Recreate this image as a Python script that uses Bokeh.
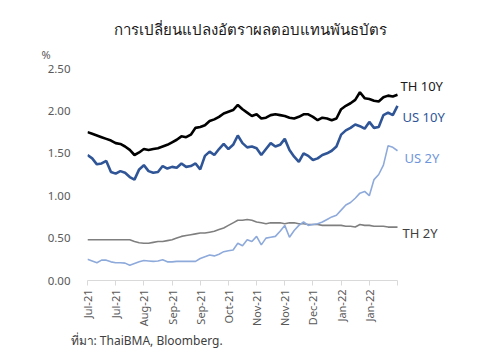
from bokeh.plotting import figure
from bokeh.models import Range1d, FixedTicker, Label, ColumnDataSource, Title
from bokeh.embed import file_html
from bokeh.resources import INLINE

# ---- data ----
tick_labels = ["Jul-21", "Jul-21", "Aug-21", "Sep-21", "Sep-21", "Oct-21",
               "Nov-21", "Nov-21", "Dec-21", "Jan-22", "Jan-22", ""]

th10y = [1.75, 1.73, 1.71, 1.69, 1.67, 1.65, 1.62, 1.61, 1.58, 1.54,
         1.48, 1.51, 1.55, 1.54, 1.55, 1.56, 1.58, 1.60, 1.63, 1.66,
         1.70, 1.69, 1.72, 1.80, 1.81, 1.83, 1.88, 1.90, 1.93, 1.97,
         1.99, 2.01, 2.07, 2.02, 1.98, 1.94, 1.96, 1.91, 1.92, 1.95,
         1.96, 1.95, 1.94, 1.92, 1.91, 1.93, 1.96, 1.96, 1.93, 1.89,
         1.92, 1.91, 1.89, 1.91, 2.02, 2.06, 2.09, 2.13, 2.22, 2.15,
         2.14, 2.12, 2.11, 2.16, 2.18, 2.17, 2.19]

us10y = [1.48, 1.44, 1.37, 1.38, 1.41, 1.28, 1.26, 1.29, 1.27, 1.22,
         1.19, 1.31, 1.36, 1.29, 1.27, 1.28, 1.35, 1.32, 1.34, 1.33,
         1.38, 1.34, 1.35, 1.38, 1.31, 1.47, 1.52, 1.48, 1.55, 1.61,
         1.55, 1.60, 1.71, 1.62, 1.57, 1.58, 1.56, 1.48, 1.55, 1.62,
         1.58, 1.60, 1.67, 1.54, 1.46, 1.40, 1.50, 1.47, 1.42, 1.44,
         1.48, 1.50, 1.53, 1.58, 1.72, 1.77, 1.80, 1.84, 1.82, 1.79,
         1.87, 1.80, 1.81, 1.95, 1.98, 1.95, 2.06]

th2y = [0.48, 0.48, 0.48, 0.48, 0.48, 0.48, 0.48, 0.48, 0.48, 0.48,
        0.46, 0.445, 0.44, 0.44, 0.45, 0.46, 0.46, 0.47, 0.48, 0.50,
        0.52, 0.53, 0.54, 0.55, 0.56, 0.56, 0.57, 0.58, 0.60, 0.62,
        0.65, 0.68, 0.71, 0.71, 0.72, 0.71, 0.69, 0.68, 0.67, 0.68,
        0.68, 0.68, 0.67, 0.68, 0.68, 0.67, 0.67, 0.66, 0.66, 0.66,
        0.65, 0.65, 0.65, 0.65, 0.65, 0.64, 0.64, 0.63, 0.66, 0.65,
        0.65, 0.64, 0.64, 0.64, 0.63, 0.63, 0.63]

us2y = [0.25, 0.23, 0.21, 0.24, 0.24, 0.22, 0.21, 0.21, 0.205, 0.18,
        0.20, 0.22, 0.235, 0.23, 0.225, 0.23, 0.245, 0.22, 0.22, 0.225,
        0.225, 0.225, 0.225, 0.225, 0.26, 0.28, 0.30, 0.29, 0.31, 0.34,
        0.35, 0.36, 0.44, 0.41, 0.48, 0.46, 0.52, 0.42, 0.50, 0.51,
        0.52, 0.58, 0.65, 0.51, 0.59, 0.65, 0.69, 0.65, 0.66, 0.67,
        0.69, 0.72, 0.75, 0.77, 0.83, 0.89, 0.92, 0.97, 1.03, 1.05,
        1.00, 1.19, 1.25, 1.36, 1.59, 1.57, 1.53]

series_names = ["TH 10Y", "US 10Y", "US 2Y", "TH 2Y"]
y_ticks = [0.0, 0.5, 1.0, 1.5, 2.0, 2.5]

title_text = "การเปลี่ยนแปลงอัตราผลตอบแทนพันธบัตร"
source_text = "ที่มา: ThaiBMA, Bloomberg."
unit_text = "%"

# ---- figure ----
n = len(th10y)
xs = list(range(n))
step = (n - 1) // (len(tick_labels) - 1)
tick_pos = [i * step for i in range(len(tick_labels))]

FONT = "Noto Sans"
PX_PER_X = 310.0 / (n - 1)       # frame pixels per x unit
PX_PER_Y = 84.8                  # frame pixels per 1.0 of yield

x_end = (n - 1) + 78 / PX_PER_X  # room on the right for the series labels

p = figure(width=500, height=362, output_backend="svg", toolbar_location=None,
           x_range=Range1d(0, x_end), y_range=Range1d(0, 2.5),
           min_border_left=87, min_border_right=25, min_border_top=68,
           min_border_bottom=82)
p.outline_line_color = None
p.background_fill_color = "white"
p.border_fill_color = "white"
p.xgrid.visible = False
p.ygrid.visible = False

src = ColumnDataSource(dict(x=xs, th10y=th10y, us10y=us10y, th2y=th2y, us2y=us2y))
p.line("x", "th2y", source=src, line_color="#7F7F7F", line_width=1.6)
p.line("x", "us2y", source=src, line_color="#8EAADB", line_width=1.6)
p.line("x", "us10y", source=src, line_color="#2F5597", line_width=2.6)
p.line("x", "th10y", source=src, line_color="#000000", line_width=2.6)

# x axis
xa = p.xaxis[0]
xa.bounds = (0, n - 1)
xa.ticker = FixedTicker(ticks=tick_pos)
xa.major_label_overrides = {t: l for t, l in zip(tick_pos, tick_labels)}
xa.major_label_orientation = 1.5708
xa.axis_line_color = "#D9D9D9"
xa.major_tick_line_color = "#D9D9D9"
xa.major_tick_in = 0
xa.major_tick_out = 5
xa.minor_tick_line_color = None
xa.major_label_text_font = FONT
xa.major_label_text_font_size = "11px"
xa.major_label_text_color = "#595959"
xa.major_label_standoff = 4

# y axis
ya = p.yaxis[0]
ya.ticker = FixedTicker(ticks=y_ticks)
ya.major_label_overrides = {t: f"{t:.2f}" for t in y_ticks}
ya.axis_line_color = None
ya.major_tick_line_color = None
ya.minor_tick_line_color = None
ya.major_label_text_font = FONT
ya.major_label_text_font_size = "11.5px"
ya.major_label_text_color = "#595959"
ya.major_label_standoff = 11

# titles around the frame
p.add_layout(Title(text=unit_text, align="left", offset=-46, standoff=13,
                   text_font=FONT, text_font_size="11px", text_color="#595959",
                   text_font_style="normal"), "above")
p.add_layout(Title(text=title_text, align="left", offset=26,
                   standoff=0, text_font=FONT, text_font_size="15px",
                   text_color="#1A1A1A", text_font_style="normal"), "above")
p.add_layout(Title(text=source_text, align="left", offset=-17, standoff=0,
                   text_font=FONT, text_font_size="12px", text_color="#404040",
                   text_font_style="normal"), "below")

# series end labels (inside the widened frame)
def dx(px):
    return (px - 87) / PX_PER_X

def dy(py):
    return (280 - py) / PX_PER_Y

label_colors = ["#1A1A1A", "#2F5597", "#6F96DB", "#404040"]
label_py = [85, 116, 157, 232]
label_px = [400, 402, 404, 402]
for name, c, px, py in zip(series_names, label_colors, label_px, label_py):
    p.add_layout(Label(x=dx(px), y=dy(py), text=name, text_color=c,
                       text_font=FONT, text_font_size="13px", text_align="left",
                       text_baseline="middle"))

open("out.html", "w").write(file_html(p, INLINE))
